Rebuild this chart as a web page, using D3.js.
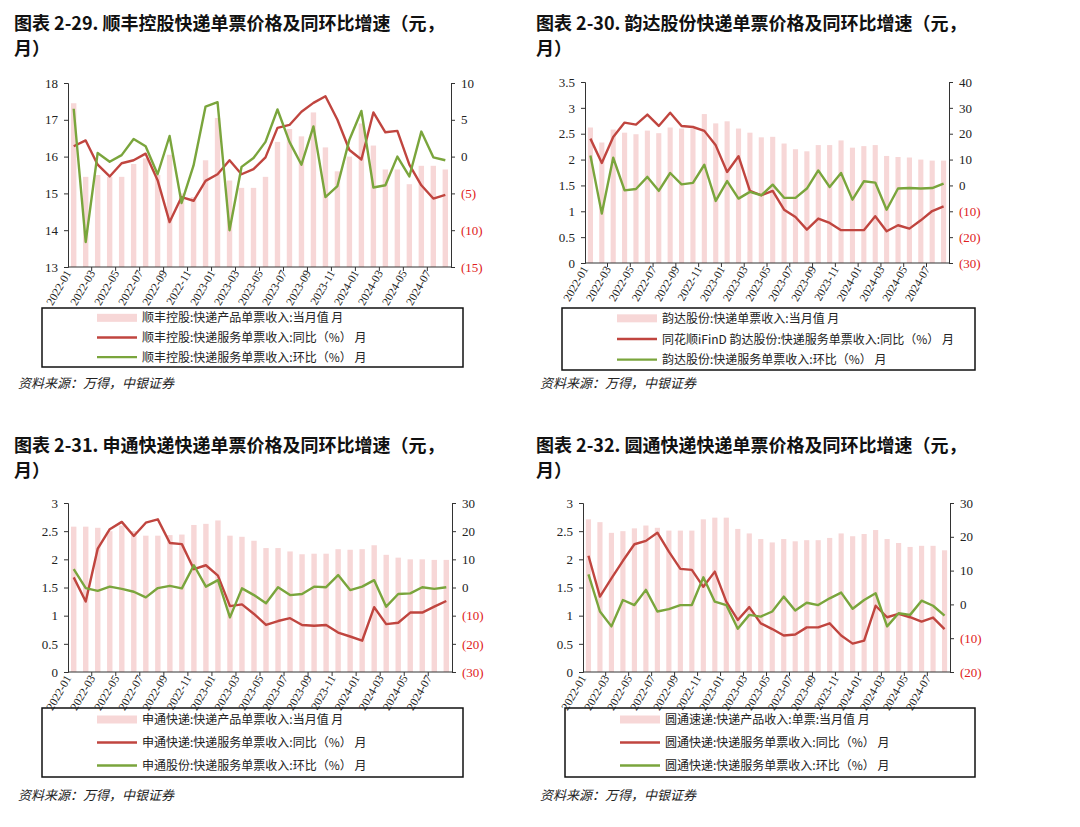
<!DOCTYPE html>
<html><head><meta charset="utf-8">
<script src="https://cdn.jsdelivr.net/npm/d3@7"></script>
<style>body{margin:0;background:#fff}svg{font-family:"Liberation Serif","Noto Sans CJK SC",serif}</style>
</head><body><svg id="c" width="1080" height="827"></svg>
<script>
const months=[];for(let y=2022;y<=2024;y++)for(let m=1;m<=12;m++){if(y===2024&&m>8)break;months.push(y+"-"+String(m).padStart(2,"0"));}
const sfBar=[17.45,15.45,15.5,15.45,15.45,15.8,15.95,15.5,16.05,15.0,14.9,15.9,17.05,15.35,15.15,15.15,15.45,16.4,16.75,16.55,17.2,16.25,15.6,16.0,16.9,16.3,15.65,15.65,15.25,15.75,15.75,15.65];
const sfYoy=[1.4,2.2,-1.1,-2.7,-0.9,-0.5,0.4,-3.2,-8.9,-5.5,-6,-3.3,-2.4,-0.5,-2.4,-1.7,-0.1,3.9,4.3,6.1,7.3,8.2,5,0.9,-0.4,6,3.3,3.5,-1.1,-3.9,-5.7,-5.2];
const sfMom=[6.5,-11.6,0.5,-0.7,0.2,2.4,1.4,-2.4,2.8,-6.3,-1.2,6.8,7.4,-10,-1.4,-0.2,2,6.4,2,-1.1,4.1,-5.5,-4,2.3,6.2,-4.2,-3.9,0,-2.7,3.4,-0.1,-0.5];
const ydBar=[2.62,2.33,2.58,2.52,2.49,2.56,2.51,2.62,2.6,2.6,2.88,2.7,2.74,2.6,2.52,2.43,2.44,2.31,2.2,2.16,2.28,2.28,2.37,2.23,2.26,2.28,2.07,2.05,2.04,2.0,1.98,1.98];
const ydYoy=[18.1,8.7,18.7,24.3,23.5,27.4,23,28.1,23,22.6,21.1,15.5,5.2,11.3,-2.1,-3.8,-2.1,-9.4,-12.2,-17.1,-12.8,-14.5,-17.3,-17.3,-17.3,-11.9,-17.7,-15.4,-16.7,-13.5,-9.9,-8.1];
const ydMom=[11.6,-10.9,10.7,-1.9,-1.4,3.3,-2.1,4.8,0.4,1,8,-6,1.7,-5.1,-2.5,-3.8,0.3,-4.8,-4.8,-1.2,5.8,-0.6,4.8,-5.5,1.6,1.1,-9.4,-1.2,-1,-1.2,-1,0.7];
const stBar=[2.58,2.58,2.56,2.5,2.6,2.5,2.42,2.42,2.43,2.44,2.61,2.63,2.69,2.42,2.4,2.33,2.2,2.2,2.14,2.09,2.1,2.1,2.18,2.17,2.18,2.25,2.08,2.03,2.0,2.0,1.99,1.99];
const stYoy=[3.6,-5,13.8,20.7,23.3,18.3,23,24.2,15.8,15.4,6.5,7.9,4.2,-6.6,-6,-9.4,-13.3,-11.9,-10.9,-13.3,-13.6,-13.3,-16,-17.4,-18.9,-7,-13,-12.5,-8.9,-8.9,-6.8,-4.8];
const stMom=[6.5,-0.2,-1.2,0.3,-0.5,-1.5,-3.5,-0.2,0.6,-0.3,7.9,0.3,2.6,-10.6,-0.3,-2.7,-5.6,0.1,-2.7,-2.3,0.3,0.1,4.4,-0.9,0.3,2.6,-6.8,-2.3,-2.1,0.1,-0.5,0.1];
const ytBar=[2.71,2.66,2.47,2.5,2.55,2.6,2.56,2.51,2.51,2.51,2.71,2.74,2.74,2.54,2.46,2.36,2.3,2.36,2.32,2.34,2.34,2.38,2.46,2.41,2.45,2.52,2.36,2.29,2.22,2.24,2.24,2.16];
const ytYoy=[14.4,2.3,7.7,12.9,17.8,18.8,21.2,15.6,10.5,10.2,5.2,9.7,0.8,-4.6,-0.8,-5.6,-7.3,-9.2,-8.9,-6.8,-6.8,-5.6,-9.2,-11.6,-10.7,-0.4,-3.8,-2.8,-3.8,-5.1,-3.9,-7.3];
const ytMom=[8.9,-2.1,-6.5,1.3,-0.2,4.3,-2.1,-1.4,-0.2,-0.2,8,0.8,-0.2,-7.2,-3.1,-3.6,-2.1,2.3,-1.8,0.5,-0.2,1.8,3.5,-1.3,1.3,3.3,-6.5,-2.6,-3.1,1.1,-0.4,-3.3];

const RED="#c0453f",GREEN="#7aa53c",BAR="#f7d7d7";
const svg=d3.select("#c");
const panels=[
 {title:["图表 2-29. 顺丰控股快递单票价格及同环比增速（元，","月）"],tx:14,ty:30,x0:68,x1:451,y0:83,y1:267,ld:[13,18],lt:[13,14,15,16,16,17,18].filter((v,i,a)=>a.indexOf(v)===i),rd:[-15,10],rt:[-15,-10,-5,0,5,10],
  bar:sfBar,yoy:sfYoy,mom:sfMom,box:[42,308,463,367],
  leg:["顺丰控股:快递产品单票收入:当月值 月","顺丰控股:快递服务单票收入:同比（%） 月","顺丰控股:快递服务单票收入:环比（%） 月"],src:388},
 {title:["图表 2-30. 韵达股份快递单票价格及同环比增速（元，","月）"],tx:536,ty:30,x0:585,x1:949,y0:82,y1:263,ld:[0,3.5],lt:[0,0.5,1,1.5,2,2.5,3,3.5],rd:[-30,40],rt:[-30,-20,-10,0,10,20,30,40],
  bar:ydBar,yoy:ydYoy,mom:ydMom,box:[562,308,975,370],
  leg:["韵达股份:快递单票收入:当月值 月","同花顺iFinD 韵达股份:快递服务单票收入:同比（%） 月","韵达股份:快递服务单票收入:环比（%） 月"],src:388},
 {title:["图表 2-31. 申通快递快递单票价格及同环比增速（元，","月）"],tx:14,ty:452,x0:68,x1:452,y0:503,y1:672,ld:[0,3],lt:[0,0.5,1,1.5,2,2.5,3],rd:[-30,30],rt:[-30,-20,-10,0,10,20,30],
  bar:stBar,yoy:stYoy,mom:stMom,box:[42,708,463,777],
  leg:["申通快递:快递产品单票收入:当月值 月","申通快递:快递服务单票收入:同比（%） 月","申通股份:快递服务单票收入:环比（%） 月"],src:800},
 {title:["图表 2-32. 圆通快递快递单票价格及同环比增速（元，","月）"],tx:536,ty:452,x0:583,x1:950,y0:503,y1:672,ld:[0,3],lt:[0,0.5,1,1.5,2,2.5,3],rd:[-20,30],rt:[-20,-10,0,10,20,30],
  bar:ytBar,yoy:ytYoy,mom:ytMom,box:[565,708,975,777],
  leg:["圆通速递:快递产品收入:单票:当月值 月","圆通快递:快递服务单票收入:同比（%） 月","圆通快递:快递服务单票收入:环比（%） 月"],src:800}
];
const fmtR=v=>v<0?"("+(-v)+")":String(v);
panels.forEach(p=>{
 const g=svg.append("g");
 p.title.forEach((t,i)=>g.append("text").attr("x",p.tx).attr("y",p.ty+i*25).attr("font-size",18).attr("font-weight","bold").attr("font-family","Noto Sans CJK SC").attr("fill","#111").text(t));
 const x=d3.scaleBand().domain(months).range([p.x0,p.x1]).paddingInner(0.55).paddingOuter(0.25);
 const yl=d3.scaleLinear().domain(p.ld).range([p.y1,p.y0]);
 const yr=d3.scaleLinear().domain(p.rd).range([p.y1,p.y0]);
 g.selectAll(".b").data(p.bar).join("rect").attr("x",(d,i)=>x(months[i])).attr("width",x.bandwidth())
  .attr("y",d=>yl(d)).attr("height",d=>p.y1-yl(d)).attr("fill",BAR);
 const cx=(d,i)=>x(months[i])+x.bandwidth()/2;
 const ln=d3.line().x(cx).y(d=>yr(d));
 g.append("path").attr("d",ln(p.yoy)).attr("fill","none").attr("stroke",RED).attr("stroke-width",2.4).attr("stroke-linejoin","round");
 g.append("path").attr("d",ln(p.mom)).attr("fill","none").attr("stroke",GREEN).attr("stroke-width",2.4).attr("stroke-linejoin","round");
 const la=g.append("g").attr("transform",`translate(${p.x0},0)`).call(d3.axisLeft(yl).tickValues(p.lt).tickSize(4).tickFormat(d=>String(d)));
 const ra=g.append("g").attr("transform",`translate(${p.x1},0)`).call(d3.axisRight(yr).tickValues(p.rt).tickSize(4).tickFormat(fmtR));
 [la,ra].forEach(a=>{a.select(".domain").attr("stroke","#333");a.selectAll("line").attr("stroke","#333");a.selectAll("text").attr("font-size",13).attr("font-family","Liberation Serif").attr("fill","#222");});
 la.selectAll("text").attr("dx",-3);ra.selectAll("text").attr("dx",3).attr("fill",d=>d<0?"#e02020":"#222");
 // x axis
 const step=x.step();
 g.append("line").attr("x1",p.x0).attr("x2",p.x1).attr("y1",p.y1).attr("y2",p.y1).attr("stroke","#333");
 months.forEach((m,i)=>{ if(i%2) return;
  const px=x(m)-x.step()*x.paddingInner()/2;
  if(i>0) g.append("line").attr("x1",px).attr("x2",px).attr("y1",p.y1).attr("y2",p.y1+4).attr("stroke","#333");
  g.append("text").attr("transform",`translate(${px+4},${p.y1+6}) rotate(-60)`).attr("text-anchor","end").attr("font-size",11.5).attr("font-family","Liberation Serif").attr("fill","#222").text(m);
 });
 const [bx0,by0,bx1,by1]=p.box;
 g.append("rect").attr("x",bx0).attr("y",by0).attr("width",bx1-bx0).attr("height",by1-by0).attr("fill","none").attr("stroke","#111").attr("stroke-width",1.5);
 const rh=(by1-by0)/3;
 p.leg.forEach((t,i)=>{
  const yy=by0+rh*(i+0.5);
  if(i===0) g.append("rect").attr("x",bx0+55).attr("y",yy-4).attr("width",40).attr("height",8).attr("fill",BAR);
  else g.append("line").attr("x1",bx0+55).attr("x2",bx0+95).attr("y1",yy).attr("y2",yy).attr("stroke",i===1?RED:GREEN).attr("stroke-width",2.4);
  g.append("text").attr("x",bx0+100).attr("y",yy+4.5).attr("font-size",12).attr("font-family","Noto Sans CJK SC").attr("fill","#222").text(t);
 });
 g.append("text").attr("x",p.tx+4).attr("y",p.src).attr("font-size",13).attr("font-style","italic").attr("font-family","Noto Sans CJK SC").attr("fill","#222").text("资料来源：万得，中银证券");
});
</script></body></html>
